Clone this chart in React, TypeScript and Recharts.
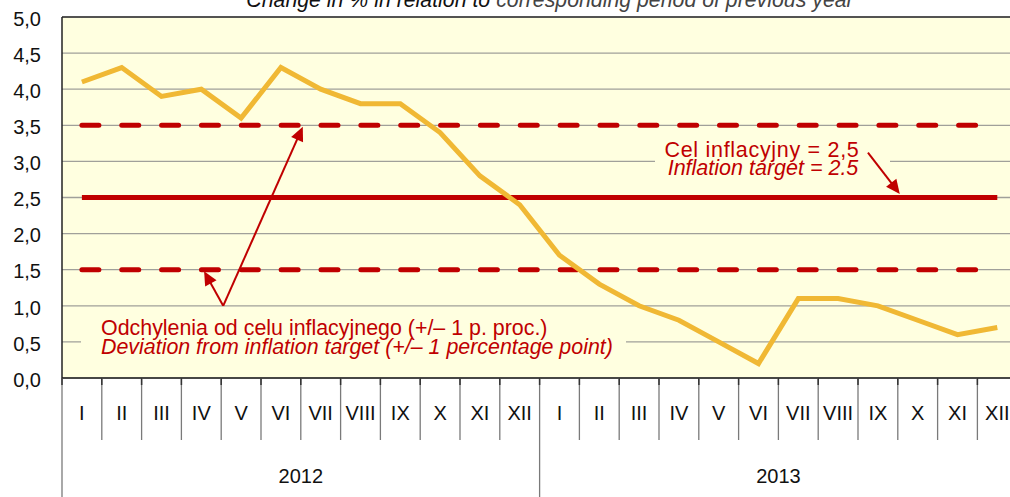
import React from 'react';
import { LineChart, Line, XAxis, YAxis, CartesianGrid, ReferenceLine } from 'recharts';

// month labels and year groups
const MONTHS = ['I', 'II', 'III', 'IV', 'V', 'VI', 'VII', 'VIII', 'IX', 'X', 'XI', 'XII'];
const YEARS = ['2012', '2013'];

// CPI, change in % y/y
const CPI_2012 = [4.1, 4.3, 3.9, 4.0, 3.6, 4.3, 4.0, 3.8, 3.8, 3.4, 2.8, 2.4];
const CPI_2013 = [1.7, 1.3, 1.0, 0.8, 0.5, 0.2, 1.1, 1.1, 1.0, 0.8, 0.6, 0.7];

// inflation target and +/- 1 pp band
const TARGET = 2.5;
const BAND_UPPER = 3.5;
const BAND_LOWER = 1.5;

const Y_TICKS = [0, 0.5, 1, 1.5, 2, 2.5, 3, 3.5, 4, 4.5, 5];

const FONT = '"Liberation Sans", Arial, sans-serif';
const RED = '#C00000';
const ORANGE = '#F0B834';

// chart geometry
const W = 1040;
const H = 497;
const LEFT = 62;
const TOP = 17;
const RIGHT = 22.8;
const X_AXIS_H = 119;
const PLOT_W = W - LEFT - RIGHT;
const PLOT_H = H - TOP - X_AXIS_H;
const N = MONTHS.length * YEARS.length;

const data = [...CPI_2012, ...CPI_2013].map((v, i) => ({
  x: i + 0.5,
  cpi: v,
  target: TARGET,
  upper: BAND_UPPER,
  lower: BAND_LOWER,
}));

const X_TICKS: number[] = [];
for (let i = 0; i <= N * 2; i++) X_TICKS.push(i / 2);

// data -> pixel, only for the annotation overlay
const px = (x: number) => LEFT + (x / N) * PLOT_W;
const py = (y: number) => TOP + PLOT_H - (y / 5) * PLOT_H;

const XTick = (props: any) => {
  const { x, y, payload } = props;
  const v = payload.value as number;
  if (v % 1 !== 0) {
    return (
      <text x={x} y={y + 42} textAnchor="middle" fontFamily={FONT} fontSize={20} fill="#111">
        {MONTHS[Math.floor(v) % 12]}
      </text>
    );
  }
  const yearEdge = v % 12 === 0;
  return (
    <g>
      <line x1={x} x2={x} y1={y} y2={yearEdge ? H : y + 62} stroke="#7a7a7a" strokeWidth={1.3} />
      <line x1={x} x2={x} y1={y} y2={y + 7} stroke="#333" strokeWidth={1.5} />
      {v % 12 === 6 && (
        <text x={x} y={y + 105} textAnchor="middle" fontFamily={FONT} fontSize={20} fill="#111">
          {YEARS[Math.floor(v / 12)]}
        </text>
      )}
    </g>
  );
};

const YTick = (props: any) => {
  const { x, y, payload } = props;
  return (
    <text x={x} y={y + 8.7} textAnchor="end" fontFamily={FONT} fontSize={20} fill="#111">
      {(payload.value as number).toFixed(1).replace('.', ',')}
    </text>
  );
};

function Arrow({ from, to }: { from: [number, number]; to: [number, number] }) {
  const x1 = px(from[0]);
  const y1 = py(from[1]);
  const x2 = px(to[0]);
  const y2 = py(to[1]);
  const dx = x2 - x1;
  const dy = y2 - y1;
  const len = Math.hypot(dx, dy);
  const ux = dx / len;
  const uy = dy / len;
  const hl = 14;
  const hw = 6.5;
  const bx = x2 - ux * hl;
  const by = y2 - uy * hl;
  return (
    <g>
      <line x1={x1} y1={y1} x2={bx + ux * 2} y2={by + uy * 2} stroke={RED} strokeWidth={2} />
      <polygon
        points={`${x2},${y2} ${bx - uy * hw},${by + ux * hw} ${bx + uy * hw},${by - ux * hw}`}
        fill={RED}
      />
    </g>
  );
}

function Annotations() {
  return (
    <svg
      width={W}
      height={H}
      style={{ position: 'absolute', left: 0, top: 0, pointerEvents: 'none' }}
    >
      <text x={550} y={6.5} textAnchor="middle" fontFamily={FONT} fontSize={21.3} fontStyle="italic">
        <tspan fill="#111">Change in % in relation to </tspan>
        <tspan fill="#444">corresponding period of previous year</tspan>
      </text>

      {/* target label */}
      <rect x={655} y={134} width={235} height={50} fill="#FFFFE0" />
      <text x={762} y={157} textAnchor="middle" fontFamily={FONT} fontSize={21.5} letterSpacing={0.7} fill={RED}>
        Cel inflacyjny = 2,5
      </text>
      <text x={763} y={175} textAnchor="middle" fontFamily={FONT} fontSize={21.5} fontStyle="italic" fill={RED}>
        Inflation target = 2.5
      </text>
      <Arrow from={[20.25, 3.12]} to={[21.05, 2.55]} />

      {/* band label */}
      <rect x={81} y={311} width={545} height={63} fill="#FFFFE0" />
      <text x={101} y={335} fontFamily={FONT} fontSize={21.4} fill={RED}>
        Odchylenia od celu inflacyjnego (+/– 1 p. proc.)
      </text>
      <text x={101} y={354} fontFamily={FONT} fontSize={21.4} fontStyle="italic" fill={RED}>
        Deviation from inflation target (+/– 1 percentage point)
      </text>
      <Arrow from={[4.05, 1.0]} to={[6.05, 3.48]} />
      <Arrow from={[4.05, 1.0]} to={[3.57, 1.48]} />
    </svg>
  );
}

export default function App() {
  return (
    <div
      style={{
        position: 'fixed',
        left: 0,
        top: 0,
        width: 1010,
        height: 497,
        overflow: 'hidden',
        background: '#fff',
      }}
    >
      <div style={{ position: 'relative', width: W, height: H }}>
        <LineChart width={W} height={H} data={data} margin={{ top: TOP, right: RIGHT, bottom: 0, left: 0 }}>
          <CartesianGrid vertical={false} fill="#FFFFE0" stroke="#A0A09A" strokeWidth={1.3} />
          <XAxis
            dataKey="x"
            type="number"
            domain={[0, N]}
            ticks={X_TICKS}
            interval={0}
            height={X_AXIS_H}
            tickSize={0}
            tickMargin={0}
            tickLine={false}
            axisLine={{ stroke: '#222', strokeWidth: 1.5 }}
            tick={(p: any) => <XTick {...p} />}
          />
          <YAxis
            type="number"
            domain={[0, 5]}
            ticks={Y_TICKS}
            width={LEFT}
            tickSize={0}
            tickMargin={21}
            tickLine={false}
            axisLine={{ stroke: '#222', strokeWidth: 1.5 }}
            tick={(p: any) => <YTick {...p} />}
          />
          <ReferenceLine y={5} stroke="#333" strokeWidth={1.5} />
          <Line
            dataKey="upper"
            stroke={RED}
            strokeWidth={5}
            strokeDasharray="17 22.85"
            strokeLinecap="round"
            dot={false}
            activeDot={false}
            isAnimationActive={false}
          />
          <Line
            dataKey="lower"
            stroke={RED}
            strokeWidth={5}
            strokeDasharray="17 22.85"
            strokeLinecap="round"
            dot={false}
            activeDot={false}
            isAnimationActive={false}
          />
          <Line
            dataKey="target"
            stroke={RED}
            strokeWidth={5}
            dot={false}
            activeDot={false}
            isAnimationActive={false}
          />
          <Line
            dataKey="cpi"
            stroke={ORANGE}
            strokeWidth={5}
            type="linear"
            dot={false}
            activeDot={false}
            isAnimationActive={false}
          />
        </LineChart>
        <Annotations />
      </div>
    </div>
  );
}
